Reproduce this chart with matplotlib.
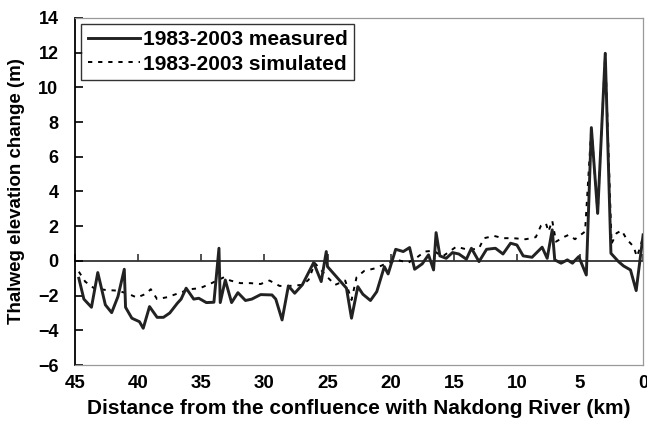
import matplotlib
matplotlib.use('Agg')
import matplotlib.pyplot as plt

# Distance from confluence (km) and thalweg change (m)
meas_km = [44.7, 44.3, 43.7, 43.2, 42.6, 42.1, 41.6, 41.1, 41.0, 40.5, 39.9, 39.6,
           39.1, 38.5, 38.0, 37.5, 36.9, 36.6, 36.2, 35.6, 35.2, 34.6, 34.0, 33.6,
           33.5, 33.1, 32.6, 32.1, 31.5, 31.0, 30.3, 29.4, 29.1, 28.6, 28.1, 27.6,
           27.0, 26.1, 25.5, 25.1, 25.0, 23.5, 23.1, 22.6, 22.2, 21.6, 21.1, 20.5,
           20.2, 19.6, 19.0, 18.5, 18.1, 17.5, 17.0, 16.6, 16.4, 16.1, 15.6, 15.1,
           14.6, 14.0, 13.6, 13.0, 12.4, 11.7, 11.1, 10.5, 10.0, 9.5, 8.8, 8.0,
           7.6, 7.2, 7.0, 6.5, 6.0, 5.6, 5.1, 4.5, 4.1, 3.6, 3.0, 2.55,
           1.95, 1.55, 1.0, 0.55, 0.0]
meas_dz = [-1.0, -2.2, -2.67, -0.67, -2.53, -2.98, -2.05, -0.48, -2.67, -3.3, -3.5, -3.88,
           -2.63, -3.25, -3.25, -3.0, -2.44, -2.2, -1.57, -2.2, -2.15, -2.4, -2.38, 0.73,
           -2.4, -1.1, -2.4, -1.83, -2.28, -2.2, -1.94, -1.96, -2.2, -3.4, -1.44, -1.86,
           -1.38, -0.1, -1.19, 0.54, -0.33, -1.57, -3.3, -1.48, -1.92, -2.28, -1.77, -0.33,
           -0.75, 0.67, 0.54, 0.77, -0.48, -0.17, 0.35, -0.52, 1.63, 0.29, 0.15, 0.48,
           0.4, 0.1, 0.73, -0.04, 0.67, 0.73, 0.4, 1.02, 0.92, 0.29, 0.21, 0.79,
           0.15, 1.79, 0.06, -0.13, 0.06, -0.13, 0.25, -0.81, 7.68, 2.74, 11.96, 0.44,
           -0.04, -0.29, -0.52, -1.71, 1.5]

sim_km = [44.7, 44.2, 43.5, 42.6, 41.7, 40.9, 40.1, 39.4, 39.0, 38.5, 37.7, 36.8,
          35.9, 35.1, 34.3, 33.2, 32.7, 31.9, 31.1, 30.3, 29.6, 28.8, 28.0, 27.0,
          26.5, 26.0, 25.0, 24.4, 23.6, 23.1, 22.7, 22.1, 21.2, 20.6, 19.5, 18.6,
          17.9, 17.3, 16.6, 15.9, 14.8, 13.8, 13.0, 12.6, 11.8, 11.1, 10.3, 9.3,
          8.5, 8.1, 7.7, 7.5, 7.2, 6.9, 6.3, 5.9, 5.4, 4.6, 4.1, 3.6,
          3.0, 2.5, 2.1, 1.7, 1.3, 0.75, 0.5, 0.2, 0.0]
sim_dz = [-0.62, -1.19, -1.57, -1.67, -1.71, -1.86, -2.11, -1.9, -1.63, -2.2, -2.09, -1.86,
          -1.63, -1.57, -1.32, -0.94, -1.13, -1.28, -1.28, -1.33, -1.13, -1.44, -1.44, -1.38,
          -1.09, -0.13, -0.94, -1.38, -1.13, -2.25, -0.94, -0.58, -0.42, -0.23, 0.06, -0.1,
          0.21, 0.54, 0.59, 0.25, 0.82, 0.63, 0.73, 1.31, 1.44, 1.31, 1.31, 1.25,
          1.37, 2.02, 2.17, 1.69, 2.32, 1.11, 1.37, 1.5, 1.25, 1.69, 7.68, 2.74,
          11.96, 1.0, 1.6, 1.75, 1.25, 0.82, 0.25, 0.82, 1.5]

x_ticks = [45, 40, 35, 30, 25, 20, 15, 10, 5, 0]
y_ticks = list(range(-6, 15, 2))

plt.rcParams['font.family'] = ['Liberation Sans', 'DejaVu Sans']
plt.rcParams['font.weight'] = 'bold'

fig = plt.figure(figsize=(6.47, 4.26), dpi=100)
ax = fig.add_axes([0.116, 0.143, 0.878, 0.815])

ax.plot(sim_km, sim_dz, color='black', lw=1.4, linestyle=(0, (2.2, 3.0)),
        label='1983-2003 simulated', zorder=3)
ax.plot(meas_km, meas_dz, color='#222222', lw=2.1, label='1983-2003 measured', zorder=4)

ax.set_xlim(45, 0)
ax.set_ylim(-6, 14)
ax.set_xticks(x_ticks)
ax.set_yticks(y_ticks)
ax.tick_params(axis='x', length=0, pad=7, labelsize=13.5)
ax.tick_params(axis='y', direction='in', length=6, width=1.2, labelsize=13, pad=12)
for lab in ax.get_xticklabels() + ax.get_yticklabels():
    lab.set_fontweight('bold')

# zero line carrying the x tick marks
sec = ax.secondary_xaxis(0.3)
sec.set_xticks(x_ticks)
sec.set_xticklabels([])
sec.tick_params(axis='x', direction='in', length=5, width=1.2, color='#333333')
for s in sec.spines.values():
    s.set_color('#333333')
    s.set_linewidth(1.3)

ax.spines['left'].set_color('black')
ax.spines['left'].set_linewidth(1.3)
for side in ['top', 'right', 'bottom']:
    ax.spines[side].set_color('#999999')
    ax.spines[side].set_linewidth(0.9)

ax.set_xlabel('Distance from the confluence with Nakdong River (km)', fontsize=15,
              fontweight='bold', labelpad=5)
ax.set_ylabel('Thalweg elevation change (m)', fontsize=13.5, fontweight='bold', labelpad=9)

handles, labels = ax.get_legend_handles_labels()
leg = ax.legend(handles[::-1], labels[::-1], loc='upper left', fontsize=15,
                frameon=True, fancybox=False, edgecolor='black', handlelength=2.5,
                borderaxespad=0.3, labelspacing=0.25, handletextpad=0.15,
                borderpad=0.3, bbox_to_anchor=(0.0, 1.0))
leg.get_frame().set_linewidth(1.0)
for t in leg.get_texts():
    t.set_fontweight('bold')

plt.savefig('out.png', dpi=100)
plt.close()
